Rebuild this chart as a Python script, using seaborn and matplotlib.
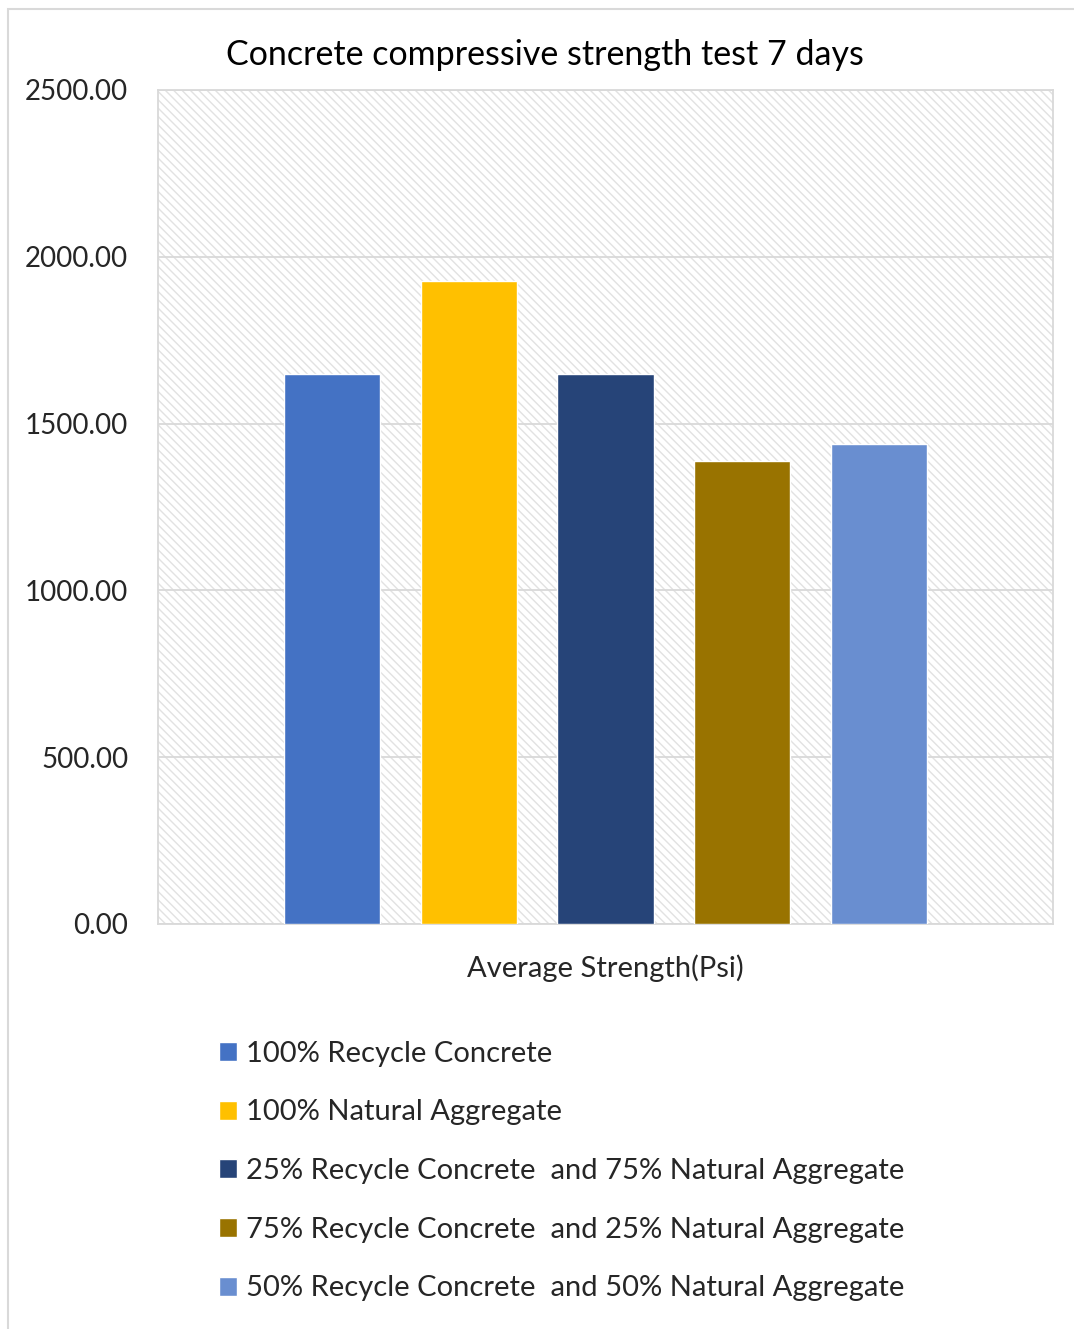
import matplotlib
matplotlib.use("Agg")
import matplotlib.pyplot as plt
from matplotlib.patches import Rectangle
import seaborn as sns
import pandas as pd

# Data
group = ["Average Strength(Psi)"] * 5
mixes = [
    "100% Recycle Concrete",
    "100% Natural Aggregate",
    "25% Recycle Concrete  and 75% Natural Aggregate",
    "75% Recycle Concrete  and 25% Natural Aggregate",
    "50% Recycle Concrete  and 50% Natural Aggregate",
]
strength = [1650, 1927, 1650, 1388, 1440]
colors = ["#4472C4", "#FFC000", "#264478", "#997300", "#698ED0"]
yticks = [0, 500, 1000, 1500, 2000, 2500]

df = pd.DataFrame({"group": group, "mix": mixes, "strength": strength})

sns.set_theme(style="white")
plt.rcParams["font.family"] = ["Lato", "DejaVu Sans"]
plt.rcParams["hatch.color"] = "#e2e2e2"
plt.rcParams["hatch.linewidth"] = 1.0

W, H = 1074, 1329
fig = plt.figure(figsize=(W / 100, H / 100), dpi=100)
ax = fig.add_axes([158 / W, 1 - 924 / H, (1053 - 158) / W, (924 - 90) / H])

# chart-area frame
fig.patches.append(Rectangle((8 / W, -0.01), 1.2, 1 - 9 / H + 0.01,
                             transform=fig.transFigure, fill=False,
                             edgecolor="#d9d9d9", linewidth=1.5, zorder=0))

# hatched plot-area background
ax.add_patch(Rectangle((0, 0), 1, 1, transform=ax.transAxes, facecolor="white",
                       hatch="\\\\\\\\", edgecolor="#e2e2e2", linewidth=0, zorder=0))

sns.barplot(data=df, x="group", y="strength", hue="mix", palette=colors,
            width=0.763, gap=0.297, saturation=1, ax=ax, zorder=3,
            legend=True)

ax.set_xlim(-0.5, 0.5)
ax.set_ylim(0, 2500)
ax.set_yticks(yticks)
ax.set_yticklabels([f"{v:.2f}" for v in yticks], fontsize=20)
ax.tick_params(axis="y", length=0, pad=21.5)
ax.tick_params(axis="x", length=0, pad=22, labelsize=21)
ax.set_xlabel("")
ax.set_ylabel("")
ax.yaxis.grid(True, color="#d9d9d9", linewidth=1.3, zorder=1)
ax.set_axisbelow(True)
for s in ax.spines.values():
    s.set_color("#d9d9d9")
    s.set_linewidth(1.3)

fig.text(545 / W, 1 - 55 / H, "Concrete compressive strength test 7 days",
         ha="center", va="center", fontsize=24.5, color="black")

handles, labels = ax.get_legend_handles_labels()
ax.get_legend().remove()
fig.legend(handles, labels, loc="upper left",
           bbox_to_anchor=(207 / W, 1 - 1029 / H), bbox_transform=fig.transFigure,
           frameon=False, fontsize=21, handlelength=0.62, handleheight=0.62,
           handletextpad=0.3, labelspacing=1.12, borderaxespad=0)

fig.savefig("out.png", dpi=100)
